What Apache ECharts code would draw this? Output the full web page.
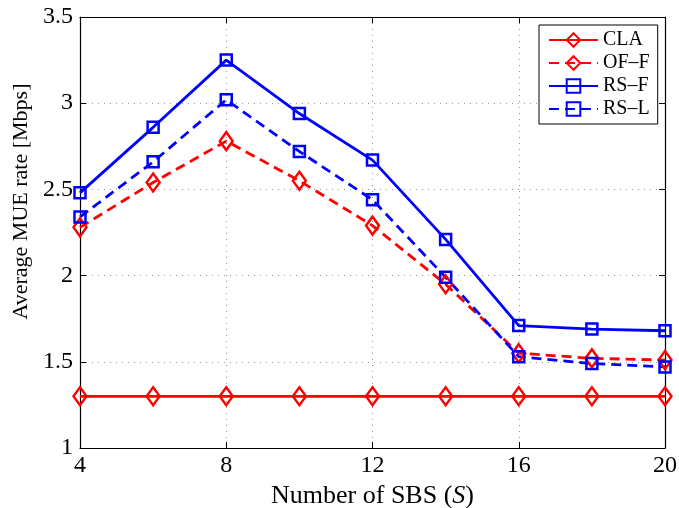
<!DOCTYPE html>
<html lang="en">
<head>
    <meta charset="UTF-8">
    <title>Average MUE rate</title>
    <script src="https://cdn.jsdelivr.net/npm/echarts@6/dist/echarts.min.js"></script>
    <style>
        html, body {
            margin: 0;
            padding: 0;
            background: #fff;
        }

        #main {
            width: 679px;
            height: 508px;
        }
    </style>
</head>
<body>
<div id="main"></div>

<script type="text/javascript">
    // data
    var sbsCounts = [4, 6, 8, 10, 12, 14, 16, 18, 20];
    var xTicks = [4, 8, 12, 16, 20];
    var yTicks = [1, 1.5, 2, 2.5, 3, 3.5];

    var claRate = [1.30, 1.30, 1.30, 1.30, 1.30, 1.30, 1.30, 1.30, 1.30];
    var offRate = [2.28, 2.54, 2.78, 2.55, 2.29, 1.95, 1.55, 1.52, 1.51];
    var rsfRate = [2.48, 2.86, 3.25, 2.94, 2.67, 2.21, 1.71, 1.69, 1.68];
    var rslRate = [2.34, 2.66, 3.02, 2.72, 2.44, 1.99, 1.53, 1.49, 1.47];

    var RED = '#ff0000';
    var BLUE = '#0000ff';
    var FONT = '"Liberation Serif", "Times New Roman", serif';

    function pairs(ys) {
        return sbsCounts.map(function (x, i) {
            return [x, ys[i]];
        });
    }

    function makeSeries(name, ys, color, dashed, symbol, size) {
        return {
            name: name,
            type: 'line',
            data: pairs(ys),
            symbol: symbol,
            symbolSize: size,
            showAllSymbol: true,
            lineStyle: {color: color, width: 2.8, type: dashed ? [10, 6] : 'solid'},
            itemStyle: {color: 'none', borderColor: color, borderWidth: 2.5},
            emphasis: {disabled: true},
            animation: false
        };
    }

    var myChart = echarts.init(document.getElementById('main'));

    var gridLine = {show: true, lineStyle: {color: '#999', type: [1, 5], width: 1}};
    var blackLine = {show: true, lineStyle: {color: '#000', width: 1.2}};
    var inTick = {show: true, inside: true, length: 6, lineStyle: {color: '#000'}};

    var option = {
        backgroundColor: '#fff',
        textStyle: {fontFamily: FONT},
        grid: {left: 80, right: 14, top: 17, bottom: 60, outerBoundsMode: 'none', containLabel: false},
        legend: {
            left: 539,
            top: 25,
            orient: 'vertical',
            padding: [5, 8, 5, 9],
            itemWidth: 49,
            itemHeight: 17,
            itemGap: 3,
            backgroundColor: '#fff',
            borderColor: '#000',
            borderWidth: 1,
            textStyle: {fontFamily: FONT, fontSize: 20, color: '#000'},
            data: ['CLA', 'OF–F', 'RS–F', 'RS–L']
        },
        xAxis: [{
            type: 'value',
            min: xTicks[0],
            max: xTicks[xTicks.length - 1],
            interval: xTicks[1] - xTicks[0],
            name: '{n|Number of SBS (}{i|S}{n|)}',
            nameLocation: 'middle',
            nameGap: 30,
            nameTextStyle: {
                rich: {
                    n: {fontFamily: FONT, fontSize: 26, color: '#000'},
                    i: {fontFamily: FONT, fontSize: 26, color: '#000', fontStyle: 'italic'}
                }
            },
            axisLine: blackLine,
            axisTick: inTick,
            splitLine: gridLine,
            axisLabel: {fontFamily: FONT, fontSize: 24, color: '#000', margin: 6}
        }, {
            type: 'value',
            position: 'top',
            min: xTicks[0],
            max: xTicks[xTicks.length - 1],
            interval: xTicks[1] - xTicks[0],
            axisLine: blackLine,
            axisTick: inTick,
            splitLine: {show: false},
            axisLabel: {show: false}
        }],
        yAxis: [{
            type: 'value',
            min: yTicks[0],
            max: yTicks[yTicks.length - 1],
            interval: yTicks[1] - yTicks[0],
            name: 'Average MUE rate [Mbps]',
            nameLocation: 'middle',
            nameGap: 47,
            nameTextStyle: {fontFamily: FONT, fontSize: 22, color: '#000', padding: [0, 0, 0, 62]},
            axisLine: blackLine,
            axisTick: inTick,
            splitLine: gridLine,
            axisLabel: {fontFamily: FONT, fontSize: 24, color: '#000', margin: 7}
        }, {
            type: 'value',
            position: 'right',
            min: yTicks[0],
            max: yTicks[yTicks.length - 1],
            interval: yTicks[1] - yTicks[0],
            axisLine: blackLine,
            axisTick: inTick,
            splitLine: {show: false},
            axisLabel: {show: false}
        }],
        series: [
            makeSeries('CLA', claRate, RED, false, 'diamond', [13, 18]),
            makeSeries('OF–F', offRate, RED, true, 'diamond', [13, 18]),
            makeSeries('RS–F', rsfRate, BLUE, false, 'rect', [11, 11]),
            makeSeries('RS–L', rslRate, BLUE, true, 'rect', [11, 11])
        ]
    };

    myChart.setOption(option);
</script>

</body>
</html>
